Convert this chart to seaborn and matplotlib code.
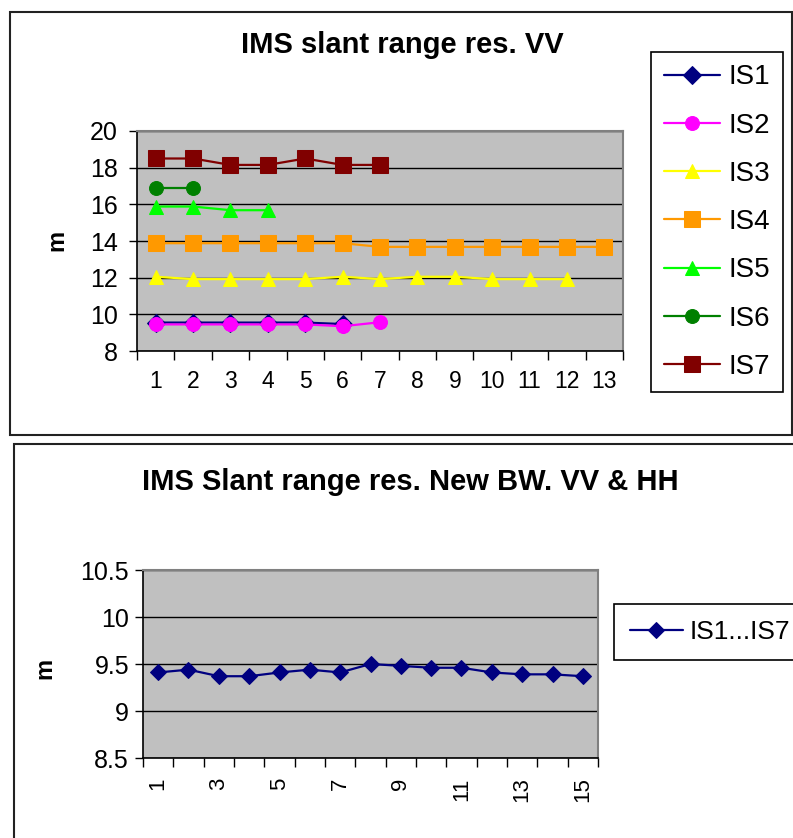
import numpy as np
import pandas as pd
import matplotlib
matplotlib.use("Agg")
import matplotlib.pyplot as plt
import seaborn as sns
from matplotlib.patches import Rectangle
from matplotlib.ticker import FixedLocator

sns.set_theme(style="white", rc={"text.color": "black", "xtick.color": "black",
                                 "ytick.color": "black", "axes.labelcolor": "black"})
plt.rcParams["font.family"] = ["Liberation Sans", "DejaVu Sans"]

W, H = 793, 838

# ---------------------------------------------------------------
# data: slant range resolution (m) per beam position
# ---------------------------------------------------------------
names = ["IS1", "IS2", "IS3", "IS4", "IS5", "IS6", "IS7"]
is1 = [9.55, 9.55, 9.55, 9.55, 9.55, 9.47]
is2 = [9.45, 9.45, 9.45, 9.45, 9.45, 9.35, 9.57]
is3 = [12.05, 11.92, 11.92, 11.92, 11.92, 12.05, 11.92, 12.05, 12.05, 11.92, 11.92, 11.92]
is4 = [13.88, 13.88, 13.88, 13.88, 13.88, 13.88, 13.68, 13.68, 13.68, 13.68, 13.68, 13.68, 13.68]
is5 = [15.88, 15.88, 15.68, 15.68]
is6 = [16.88, 16.88]
is7 = [18.5, 18.5, 18.15, 18.15, 18.5, 18.15, 18.15]
top_series = [is1, is2, is3, is4, is5, is6, is7]
top_colors = ["#000080", "#FF00FF", "#FFFF00", "#FF9900", "#00FF00", "#008000", "#800000"]
top_markers = ["D", "o", "^", "s", "^", "o", "s"]
top_msize = [9, 10, 10, 12, 10, 10, 11]
top_categories = list(range(1, 14))
top_yticks = [8, 10, 12, 14, 16, 18, 20]

new_bw = [9.41, 9.44, 9.37, 9.37, 9.41, 9.44, 9.41, 9.50, 9.48, 9.46, 9.46, 9.41, 9.39, 9.39, 9.37]
bottom_categories = list(range(1, 16))
bottom_labels = [str(c) if c % 2 == 1 else "" for c in bottom_categories]
bottom_yticks = [8.5, 9, 9.5, 10, 10.5]

fig = plt.figure(figsize=(W / 100, H / 100), dpi=100)


def fx(px):
    return px / W


def fy(py):
    return 1 - py / H


def style_axes(ax, ncat):
    ax.set_facecolor("#C0C0C0")
    ax.set_axisbelow(True)
    ax.yaxis.grid(True, color="black", linewidth=1)
    ax.xaxis.grid(False)
    for side in ["top", "right"]:
        ax.spines[side].set_color("#808080")
        ax.spines[side].set_linewidth(1.5)
    for side in ["left", "bottom"]:
        ax.spines[side].set_color("black")
        ax.spines[side].set_linewidth(1.2)
    ax.set_xlim(0.5, ncat + 0.5)
    # tick marks between categories, labels at category centres
    ax.xaxis.set_major_locator(FixedLocator(np.arange(0.5, ncat + 1, 1)))
    ax.tick_params(axis="x", which="major", direction="out", length=6.5, width=1,
                   color="black", labelbottom=False, bottom=True)
    ax.tick_params(axis="y", which="major", direction="out", length=6, width=1,
                   color="black", left=True)
    ax.set_xlabel("")
    ax.set_ylabel("")


# ---------------------------------------------------------------
# frames around the two charts
# ---------------------------------------------------------------
fig.add_artist(Rectangle((fx(10), fy(435)), fx(792) - fx(10), fy(12) - fy(435),
                         transform=fig.transFigure, fill=False, edgecolor="#222222", lw=1.5))
fig.add_artist(Rectangle((fx(14), -0.1), 1.0, fy(444) + 0.1,
                         transform=fig.transFigure, fill=False, edgecolor="#222222", lw=1.5))

# ---------------------------------------------------------------
# top chart
# ---------------------------------------------------------------
ax1 = fig.add_axes([fx(137), fy(351), fx(623) - fx(137), fy(131) - fy(351)])
for name, vals, c, m, ms in zip(names, top_series, top_colors, top_markers, top_msize):
    df = pd.DataFrame({"pos": np.arange(1, len(vals) + 1), "val": vals})
    sns.lineplot(data=df, x="pos", y="val", ax=ax1, color=c, marker=m, markersize=ms,
                 markeredgecolor=c, linewidth=1.6, label=name)
style_axes(ax1, len(top_categories))
ax1.set_ylim(8, 20)
ax1.set_yticks(top_yticks)
ax1.set_yticklabels([str(t) for t in top_yticks], fontsize=18)
ax1.tick_params(axis="y", pad=8)
ax1.xaxis.set_minor_locator(FixedLocator(top_categories))
ax1.set_xticklabels([str(c) for c in top_categories], minor=True, fontsize=16.5)
ax1.tick_params(axis="x", which="minor", length=0, pad=14)

handles, labels = ax1.get_legend_handles_labels()
ax1.legend(handles, labels, loc="upper left", bbox_to_anchor=(fx(651), fy(52)),
           bbox_transform=fig.transFigure, frameon=True, fancybox=False,
           edgecolor="black", framealpha=1, borderaxespad=0, fontsize=20,
           labelspacing=0.8, handlelength=2.05, handletextpad=0.3, borderpad=0.45)
ax1.get_legend().get_frame().set_linewidth(1.2)

fig.text(fx(402), fy(45), "IMS slant range res. VV", ha="center", va="center",
         fontsize=21, fontweight="bold")
fig.text(fx(57), fy(240), "m", ha="center", va="center", rotation=90,
         fontsize=17, fontweight="bold")

# ---------------------------------------------------------------
# bottom chart
# ---------------------------------------------------------------
ax2 = fig.add_axes([fx(143), fy(758), fx(598) - fx(143), fy(570) - fy(758)])
df2 = pd.DataFrame({"pos": bottom_categories, "val": new_bw})
sns.lineplot(data=df2, x="pos", y="val", ax=ax2, color="#000080", marker="D",
             markersize=8, markeredgecolor="#000080", linewidth=1.6, label="IS1...IS7")
style_axes(ax2, len(bottom_categories))
ax2.set_ylim(8.5, 10.5)
ax2.set_yticks(bottom_yticks)
ax2.set_yticklabels([f"{t:g}" for t in bottom_yticks], fontsize=18)
ax2.tick_params(axis="y", pad=4)
ax2.xaxis.set_minor_locator(FixedLocator(bottom_categories))
ax2.set_xticklabels(bottom_labels, minor=True, fontsize=16, rotation=90, va="top")
ax2.tick_params(axis="x", which="minor", length=0, pad=14)

ax2.legend(loc="upper left", bbox_to_anchor=(fx(614), fy(604)),
           bbox_transform=fig.transFigure, frameon=True, fancybox=False,
           edgecolor="black", framealpha=1, borderaxespad=0, fontsize=19,
           handlelength=2.0, handletextpad=0.25, borderpad=0.6)
ax2.get_legend().get_frame().set_linewidth(1.2)

fig.text(fx(410), fy(482), "IMS Slant range res. New BW. VV & HH", ha="center",
         va="center", fontsize=21, fontweight="bold")
fig.text(fx(45), fy(668), "m", ha="center", va="center", rotation=90,
         fontsize=17, fontweight="bold")

fig.savefig("out.png", dpi=100)
